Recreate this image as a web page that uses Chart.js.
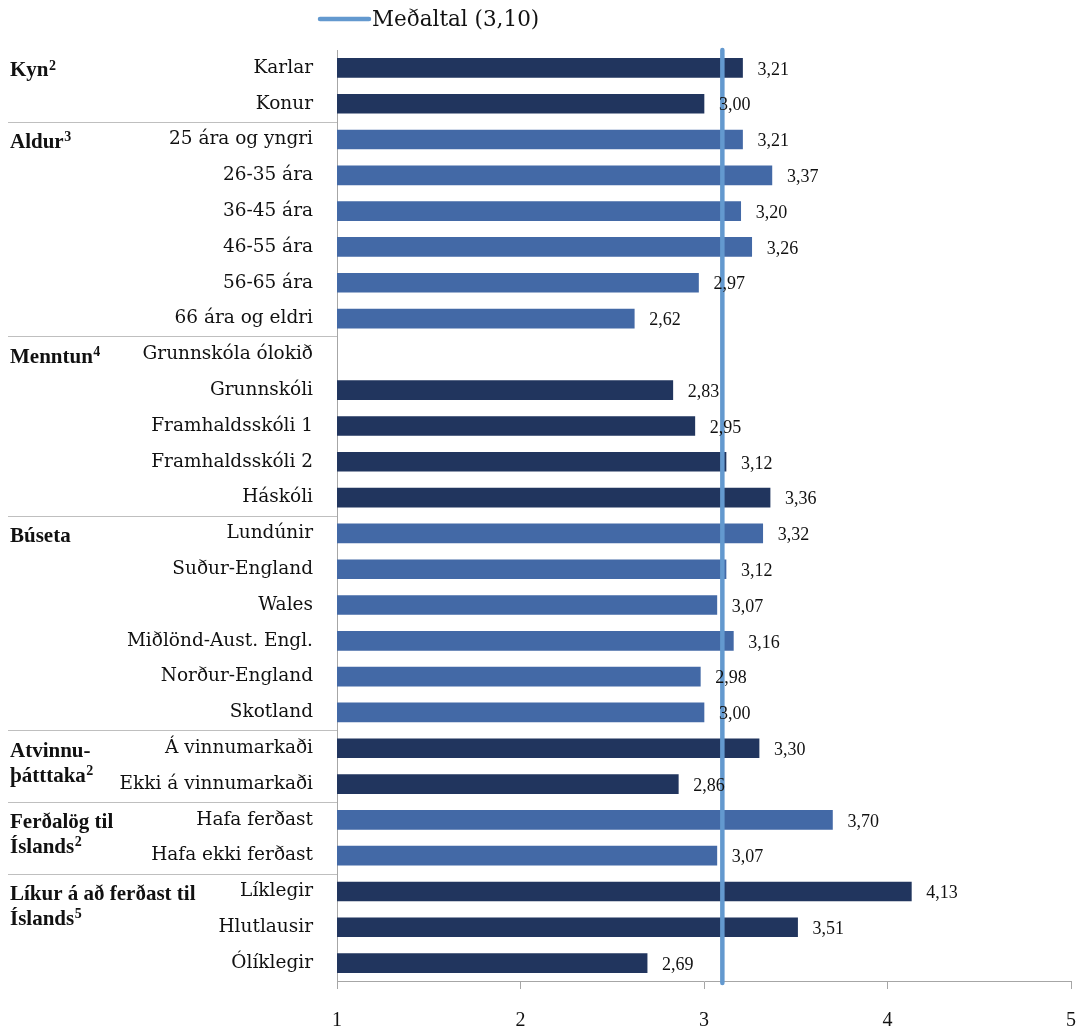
<!DOCTYPE html>
<html><head><meta charset="utf-8">
<script src="https://cdn.jsdelivr.net/npm/chart.js@4"></script>
<style>html,body{margin:0;padding:0;background:#fff}#wrap{width:1077px;height:1030px}</style>
</head><body><div id="wrap"><canvas id="c"></canvas></div>
<script>
const categories = ['Karlar','Konur','25 ára og yngri','26-35 ára','36-45 ára','46-55 ára','56-65 ára','66 ára og eldri','Grunnskóla ólokið','Grunnskóli','Framhaldsskóli 1','Framhaldsskóli 2','Háskóli','Lundúnir','Suður-England','Wales','Miðlönd-Aust. Engl.','Norður-England','Skotland','Á vinnumarkaði','Ekki á vinnumarkaði','Hafa ferðast','Hafa ekki ferðast','Líklegir','Hlutlausir','Ólíklegir'];
const values = [3.21,3.00,3.21,3.37,3.20,3.26,2.97,2.62,null,2.83,2.95,3.12,3.36,3.32,3.12,3.07,3.16,2.98,3.00,3.30,2.86,3.70,3.07,4.13,3.51,2.69];
const groupNames = [['Kyn²'],['Aldur³'],['Menntun⁴'],['Búseta'],['Atvinnu-','þátttaka²'],['Ferðalög til','Íslands²'],['Líkur á að ferðast til','Íslands⁵']];
const groupStarts = [0,2,8,13,19,21,23];
const groupShade = ['dark','mid','dark','mid','dark','mid','dark'];
const averageValue = 3.10;
const averageLabel = 'Meðaltal (3,10)';
const xTicks = [1,2,3,4,5];

const DARK = '#21355E', MID = '#4369A6', AVG = '#6399CF';
const LABEL_FONT = '"DejaVu Serif"';
const SUP = { '²': '2', '³': '3', '⁴': '4', '⁵': '5' };
const barColors = categories.map((_, i) => {
  let g = 0; groupStarts.forEach((s, k) => { if (i >= s) g = k; });
  return groupShade[g] === 'dark' ? DARK : MID;
});

function drawWithSup(ctx, text, x0, y0) {
  let cx = x0, buf = '';
  const main = 'bold 21px "Liberation Serif"', small = 'bold 14px "Liberation Serif"';
  const flush = () => { if (buf) { ctx.font = main; ctx.fillText(buf, cx, y0); cx += ctx.measureText(buf).width; buf = ''; } };
  for (const ch of text) {
    if (SUP[ch]) { flush(); ctx.font = small; ctx.fillText(SUP[ch], cx + 0.5, y0 - 5); cx += ctx.measureText(SUP[ch]).width + 0.5; }
    else buf += ch;
  }
  flush();
}

const overlay = {
  id: 'overlay',
  afterDatasetsDraw(chart) {
    const ctx = chart.ctx, x = chart.scales.x, y = chart.scales.y, area = chart.chartArea;
    ctx.save();
    ctx.strokeStyle = '#BFBFBF'; ctx.lineWidth = 1;
    groupStarts.forEach((s, k) => {
      if (k === 0) return;
      const py = Math.round((y.getPixelForValue(s - 1) + y.getPixelForValue(s)) / 2) + 0.5;
      ctx.beginPath(); ctx.moveTo(8, py); ctx.lineTo(area.left, py); ctx.stroke();
    });
    ctx.fillStyle = '#111';
    ctx.textAlign = 'left'; ctx.textBaseline = 'middle';
    groupNames.forEach((lines, k) => {
      const py = y.getPixelForValue(groupStarts[k]) + 3;
      lines.forEach((t, j) => drawWithSup(ctx, t, 10, py + j * 25));
    });
    const ax = x.getPixelForValue(averageValue);
    ctx.strokeStyle = AVG; ctx.lineWidth = 4.5; ctx.lineCap = 'round';
    ctx.beginPath(); ctx.moveTo(ax, area.top); ctx.lineTo(ax, area.bottom + 2); ctx.stroke();
    ctx.beginPath(); ctx.moveTo(320, 19); ctx.lineTo(369, 19); ctx.stroke();
    ctx.fillStyle = '#111'; ctx.font = '21.5px ' + LABEL_FONT;
    ctx.fillText(averageLabel, 372, 20);
    ctx.font = '18px "Liberation Serif"';
    values.forEach((v, i) => {
      if (v == null) return;
      ctx.fillText(v.toFixed(2).replace('.', ','), x.getPixelForValue(v) + 15, y.getPixelForValue(i) + 2);
    });
    ctx.restore();
  }
};

new Chart(document.getElementById('c'), {
  type: 'bar',
  data: { labels: categories, datasets: [{ data: values, backgroundColor: barColors, barThickness: 19 }] },
  options: {
    indexAxis: 'y', responsive: true, maintainAspectRatio: false, animation: false,
    layout: { padding: { top: 50, right: 6, left: 0, bottom: 0 } },
    plugins: { legend: { display: false }, tooltip: { enabled: false } },
    scales: {
      x: {
        min: 1, max: 5,
        afterBuildTicks: s => { s.ticks = xTicks.map(v => ({ value: v })); },
        afterFit: s => { s.height = 49; s.paddingLeft = 0; s.paddingRight = 0; },
        grid: { drawOnChartArea: false, drawTicks: true, tickLength: 8, color: '#A6A6A6' },
        border: { color: '#A6A6A6' },
        ticks: { color: '#111', font: { family: 'Liberation Serif', size: 20 }, padding: 20, maxRotation: 0 }
      },
      y: {
        afterFit: s => { s.width = 337; s.paddingTop = 0; s.paddingBottom = 0; },
        grid: { display: false, drawTicks: false },
        border: { color: '#A6A6A6' },
        ticks: { color: '#111', font: { family: 'DejaVu Serif', size: 18.5 }, padding: 24, autoSkip: false }
      }
    }
  },
  plugins: [overlay]
});
</script></body></html>
